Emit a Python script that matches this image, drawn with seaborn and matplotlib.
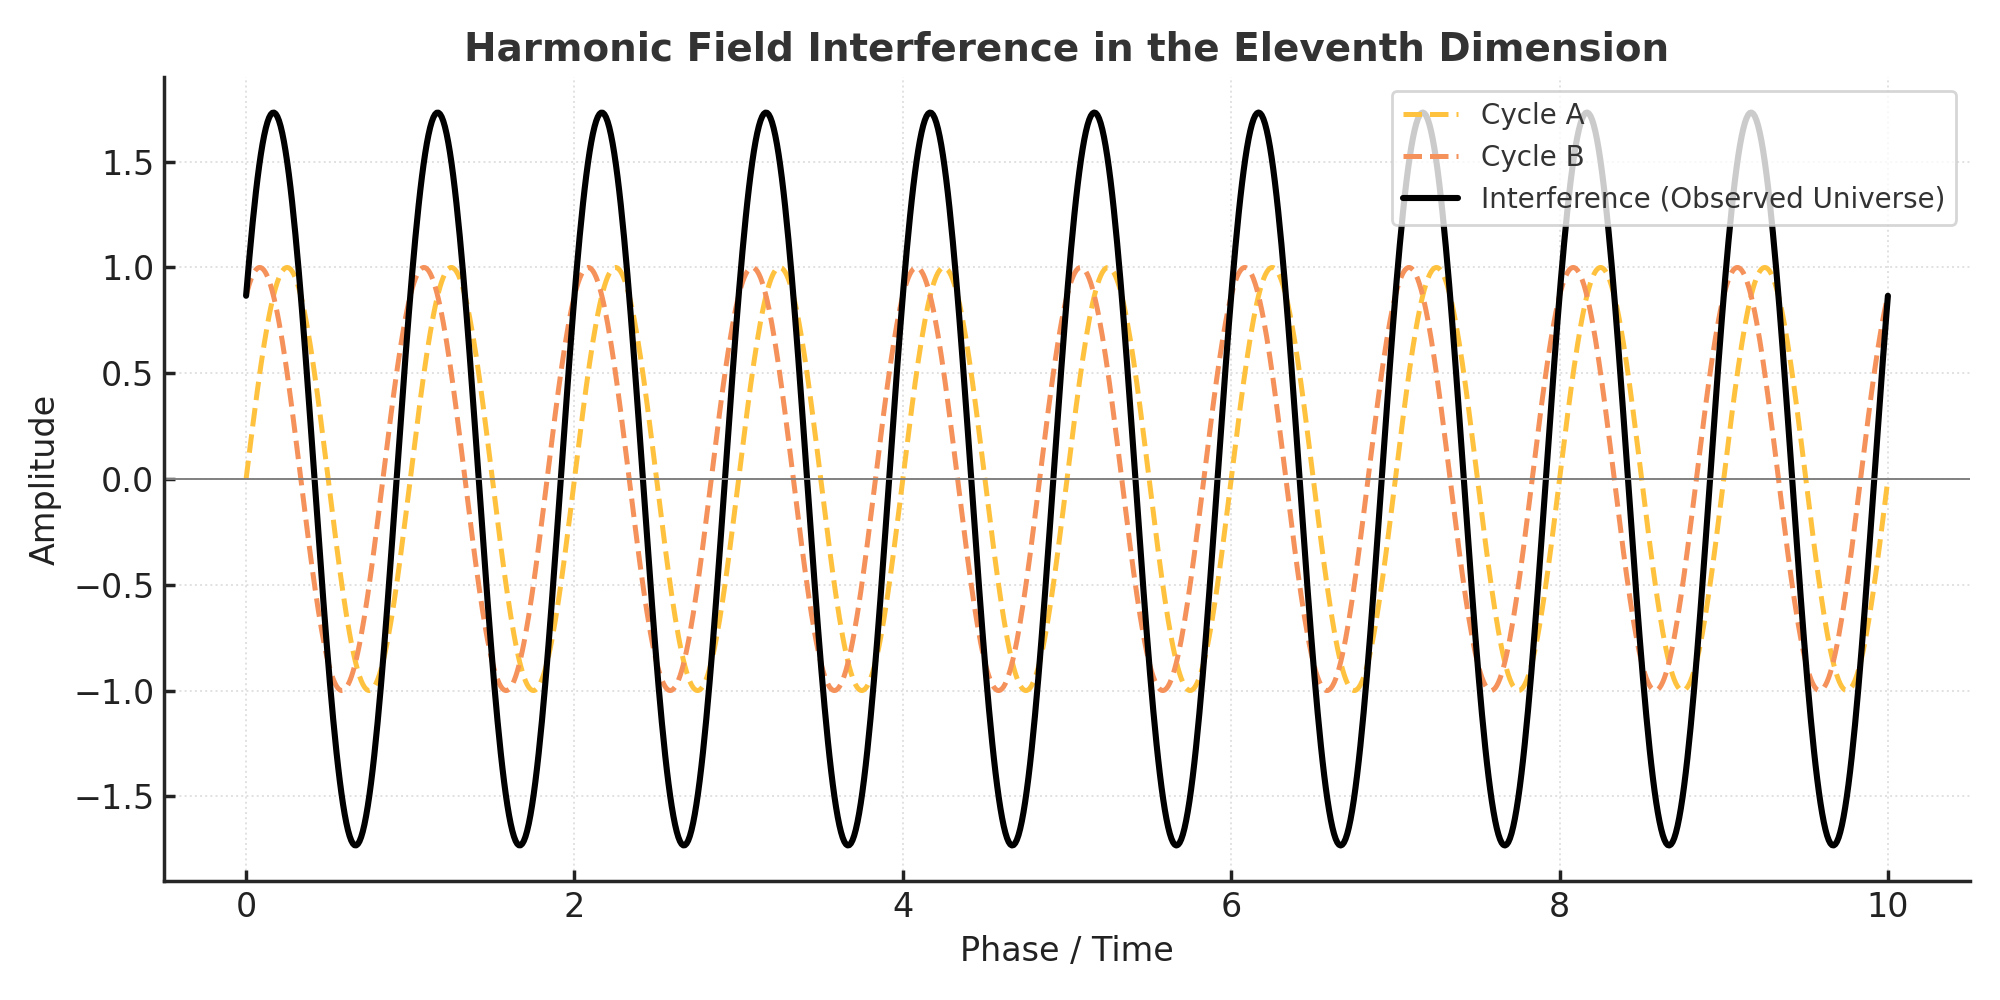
import numpy as np
import pandas as pd
import seaborn as sns
import matplotlib.pyplot as plt

# values
x_start, x_end = 0, 10
cycles_per_unit = 1.0          # one full period per unit of phase/time
phase_a = 0.0                  # Cycle A peaks at x = 0.25
phase_b = np.pi / 3            # Cycle B peaks at x ~ 0.08, starts at ~0.87
labels = ['Cycle A', 'Cycle B', 'Interference (Observed Universe)']
colors = ['#FFC23F', '#F5915A', 'black']

sns.set_theme(style='ticks')
plt.rcParams['font.family'] = ['DejaVu Sans']
plt.rcParams['xtick.direction'] = 'in'
plt.rcParams['ytick.direction'] = 'in'

t = np.linspace(x_start, x_end, 1000)
wave_a = np.sin(2 * np.pi * cycles_per_unit * t + phase_a)
wave_b = np.sin(2 * np.pi * cycles_per_unit * t + phase_b)
df = pd.DataFrame({'t': t, labels[0]: wave_a, labels[1]: wave_b,
                   labels[2]: wave_a + wave_b})

fig, ax = plt.subplots(figsize=(10, 5), dpi=200)
fig.subplots_adjust(left=0.082, right=0.985, top=0.923, bottom=0.119)

sns.lineplot(data=df, x='t', y=labels[0], ax=ax, color=colors[0],
             linestyle='--', linewidth=1.8, label=labels[0])
sns.lineplot(data=df, x='t', y=labels[1], ax=ax, color=colors[1],
             linestyle='--', linewidth=1.8, label=labels[1])
sns.lineplot(data=df, x='t', y=labels[2], ax=ax, color=colors[2],
             linewidth=2.2, label=labels[2])

ax.axhline(0, color='gray', linewidth=0.7)
ax.grid(True, linestyle=':', color='#cccccc', linewidth=0.7, alpha=0.6)
ax.set_xlim(-0.5, 10.5)
ax.set_ylim(-1.9, 1.9)

ax.set_title('Harmonic Field Interference in the Eleventh Dimension',
             fontsize=14, fontweight='bold', color='#333333')
ax.set_xlabel('Phase / Time', fontsize=12, color='#222222')
ax.set_ylabel('Amplitude', fontsize=12, color='#222222')
ax.tick_params(labelsize=12, colors='#222222', length=4)
sns.despine(ax=ax)

leg = ax.legend(loc='upper right', fontsize=10, frameon=True, framealpha=0.8,
                edgecolor='#cccccc')
for txt in leg.get_texts():
    txt.set_color('#333333')

fig.savefig('out.png')
